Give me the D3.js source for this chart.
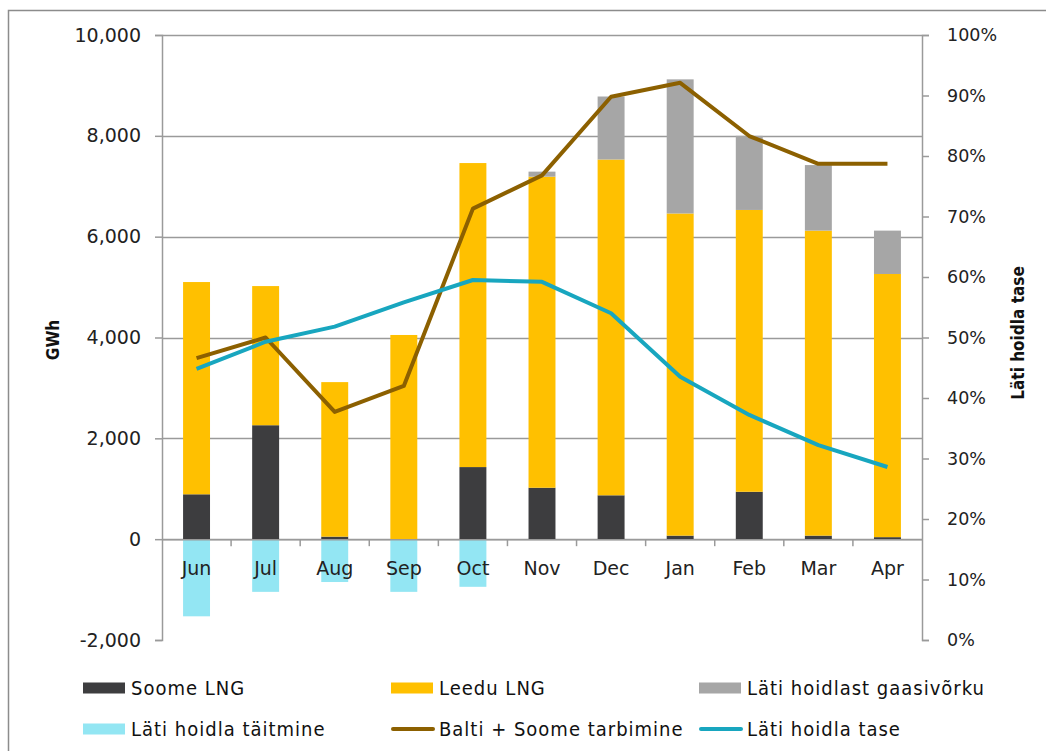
<!DOCTYPE html>
<html>
<head>
<meta charset="utf-8">
<script src="https://cdn.jsdelivr.net/npm/d3@7"></script>
<style>
  body { margin: 0; background: #fff; }
  svg { display: block; }
</style>
</head>
<body>
<div id="chart"></div>
<script>
// Data
const months = ["Jun", "Jul", "Aug", "Sep", "Oct", "Nov", "Dec", "Jan", "Feb", "Mar", "Apr"];
const soomeLNG = [890, 2260, 50, 0, 1430, 1020, 870, 70, 940, 70, 40];
const leeduLNG = [4210, 2760, 3065, 4050, 6030, 6170, 6660, 6390, 5590, 6050, 5220];
const latiHoidlast = [0, 0, 0, 0, 0, 100, 1250, 2660, 1470, 1300, 860];
const latiTaitmine = [-1530, -1045, -850, -1045, -945, 0, 0, 0, 0, 0, 0];
const tarbimine = [0.466, 0.500, 0.377, 0.420, 0.713, 0.768, 0.898, 0.921, 0.833, 0.787, 0.787];
const hoidlaTase = [0.448, 0.493, 0.518, 0.558, 0.595, 0.592, 0.540, 0.435, 0.372, 0.322, 0.286];

const leftTicks = [-2000, 0, 2000, 4000, 6000, 8000, 10000];
const rightTicks = [0, 0.1, 0.2, 0.3, 0.4, 0.5, 0.6, 0.7, 0.8, 0.9, 1];

const colors = {
    soome: "#3d3d3f",
    leedu: "#ffc000",
    hoidlast: "#a6a6a6",
    taitmine: "#93e6f3",
    tarbimine: "#8c6000",
    tase: "#18a6bf"
};

const width = 1046, height = 751;
const plot = { left: 162, right: 922, top: 35, bottom: 640 };
const axisColor = "#9a9a9a";
const tickFont = "'DejaVu Sans', Verdana, sans-serif";
const legendFont = "'DejaVu Sans Condensed', 'DejaVu Sans', sans-serif";

const svg = d3.select("#chart").append("svg")
    .attr("width", width)
    .attr("height", height);

// outer chart border
svg.append("rect")
    .attr("x", 8.5).attr("y", 10.5)
    .attr("width", 1100).attr("height", 800)
    .attr("fill", "none")
    .attr("stroke", "#8c8c8c")
    .attr("stroke-width", 1.5);

const x = d3.scaleBand()
    .domain(months)
    .range([plot.left, plot.right])
    .paddingInner(0.61)
    .paddingOuter(0.305);

const y = d3.scaleLinear().domain([-2000, 10000]).range([plot.bottom, plot.top]);
const y2 = d3.scaleLinear().domain([0, 1]).range([plot.bottom, plot.top]);

// gridlines
svg.append("g")
    .selectAll("line")
    .data(leftTicks.filter(d => d !== -2000))
    .enter().append("line")
    .attr("x1", plot.left).attr("x2", plot.right)
    .attr("y1", d => Math.round(y(d)) + 0.5)
    .attr("y2", d => Math.round(y(d)) + 0.5)
    .attr("stroke", axisColor)
    .attr("stroke-width", 1.5);

// bars
const table = months.map((m, i) => ({
    month: m,
    soome: soomeLNG[i],
    leedu: leeduLNG[i],
    hoidlast: latiHoidlast[i],
    taitmine: latiTaitmine[i]
}));

const series = d3.stack()
    .keys(["soome", "leedu", "hoidlast", "taitmine"])
    .offset(d3.stackOffsetDiverging)(table);

svg.append("g")
    .selectAll("g")
    .data(series)
    .enter().append("g")
    .attr("fill", d => colors[d.key])
    .selectAll("rect")
    .data(d => d)
    .enter().append("rect")
    .attr("x", d => x(d.data.month))
    .attr("width", x.bandwidth())
    .attr("y", d => y(d[1]))
    .attr("height", d => Math.abs(y(d[0]) - y(d[1])));

// left axis
const fmt = d3.format(",.0f");
const leftAxis = d3.axisLeft(y)
    .tickValues(leftTicks)
    .tickSize(7)
    .tickPadding(14)
    .tickFormat(d => fmt(d).replace("\u2212", "-"));

const gl = svg.append("g")
    .attr("transform", `translate(${plot.left},0)`)
    .call(leftAxis);

// right axis
const rightAxis = d3.axisRight(y2)
    .tickValues(rightTicks)
    .tickSize(7)
    .tickPadding(18)
    .tickFormat(d3.format(".0%"));

const gr = svg.append("g")
    .attr("transform", `translate(${plot.right},0)`)
    .call(rightAxis);

// x axis on the zero line
const bottomAxis = d3.axisBottom(x).tickSize(0).tickPadding(22);
const gx = svg.append("g")
    .attr("transform", `translate(0,${y(0)})`)
    .call(bottomAxis);

gx.selectAll(".tick-sep")
    .data(months.slice(1))
    .enter().append("line")
    .attr("x1", d => x(d) - x.step() * x.paddingInner() / 2)
    .attr("x2", d => x(d) - x.step() * x.paddingInner() / 2)
    .attr("y1", 0).attr("y2", 7)
    .attr("stroke", axisColor)
    .attr("stroke-width", 1.5);

[gl, gr, gx].forEach(g => {
    g.selectAll(".domain").attr("stroke", axisColor).attr("stroke-width", 1.5);
    g.selectAll(".tick line").attr("stroke", axisColor).attr("stroke-width", 1.5);
    g.selectAll(".tick text")
        .attr("fill", "#222")
        .style("font-family", tickFont)
        .style("font-size", "19px");
});
gr.selectAll(".tick text").style("font-size", "17.5px");
gx.select(".domain").attr("d", `M${plot.left},0.5H${plot.right}`);

// lines
const cx = m => x(m) + x.bandwidth() / 2;

const line = d3.line()
    .x((d, i) => cx(months[i]))
    .y(d => y2(d));

svg.append("path")
    .datum(tarbimine)
    .attr("d", line)
    .attr("fill", "none")
    .attr("stroke", colors.tarbimine)
    .attr("stroke-width", 4)
    .attr("stroke-linejoin", "round");

svg.append("path")
    .datum(hoidlaTase)
    .attr("d", line)
    .attr("fill", "none")
    .attr("stroke", colors.tase)
    .attr("stroke-width", 4)
    .attr("stroke-linejoin", "round");

// axis titles
svg.append("text")
    .attr("transform", `translate(59,340) rotate(-90)`)
    .attr("text-anchor", "middle")
    .style("font-family", legendFont)
    .style("font-weight", "bold")
    .style("font-size", "17px")
    .attr("fill", "#111")
    .text("GWh");

svg.append("text")
    .attr("transform", `translate(1024,333) rotate(-90)`)
    .attr("text-anchor", "middle")
    .style("font-family", legendFont)
    .style("font-weight", "bold")
    .style("font-size", "17px")
    .attr("fill", "#111")
    .text("Läti hoidla tase");

// legend
const legendItems = [
    { label: "Soome LNG", color: colors.soome, type: "rect", x: 83, y: 688 },
    { label: "Leedu LNG", color: colors.leedu, type: "rect", x: 391, y: 688 },
    { label: "Läti hoidlast gaasivõrku", color: colors.hoidlast, type: "rect", x: 699, y: 688 },
    { label: "Läti hoidla täitmine", color: colors.taitmine, type: "rect", x: 83, y: 729 },
    { label: "Balti + Soome tarbimine", color: colors.tarbimine, type: "line", x: 391, y: 729 },
    { label: "Läti hoidla tase", color: colors.tase, type: "line", x: 699, y: 729 }
];

const legend = svg.append("g")
    .selectAll("g")
    .data(legendItems)
    .enter().append("g")
    .attr("transform", d => `translate(${d.x},${d.y})`);

legend.filter(d => d.type === "rect").append("rect")
    .attr("x", 0).attr("y", -5.5)
    .attr("width", 42).attr("height", 11)
    .attr("fill", d => d.color);

legend.filter(d => d.type === "line").append("line")
    .attr("x1", 2).attr("x2", 42)
    .attr("y1", 0).attr("y2", 0)
    .attr("stroke", d => d.color)
    .attr("stroke-width", 4)
    .attr("stroke-linecap", "round");

legend.append("text")
    .attr("x", 48)
    .attr("y", 0)
    .attr("dy", "0.35em")
    .style("font-family", legendFont)
    .style("font-size", "20px")
    .style("letter-spacing", "1px")
    .attr("fill", "#111")
    .text(d => d.label);
</script>
</body>
</html>
